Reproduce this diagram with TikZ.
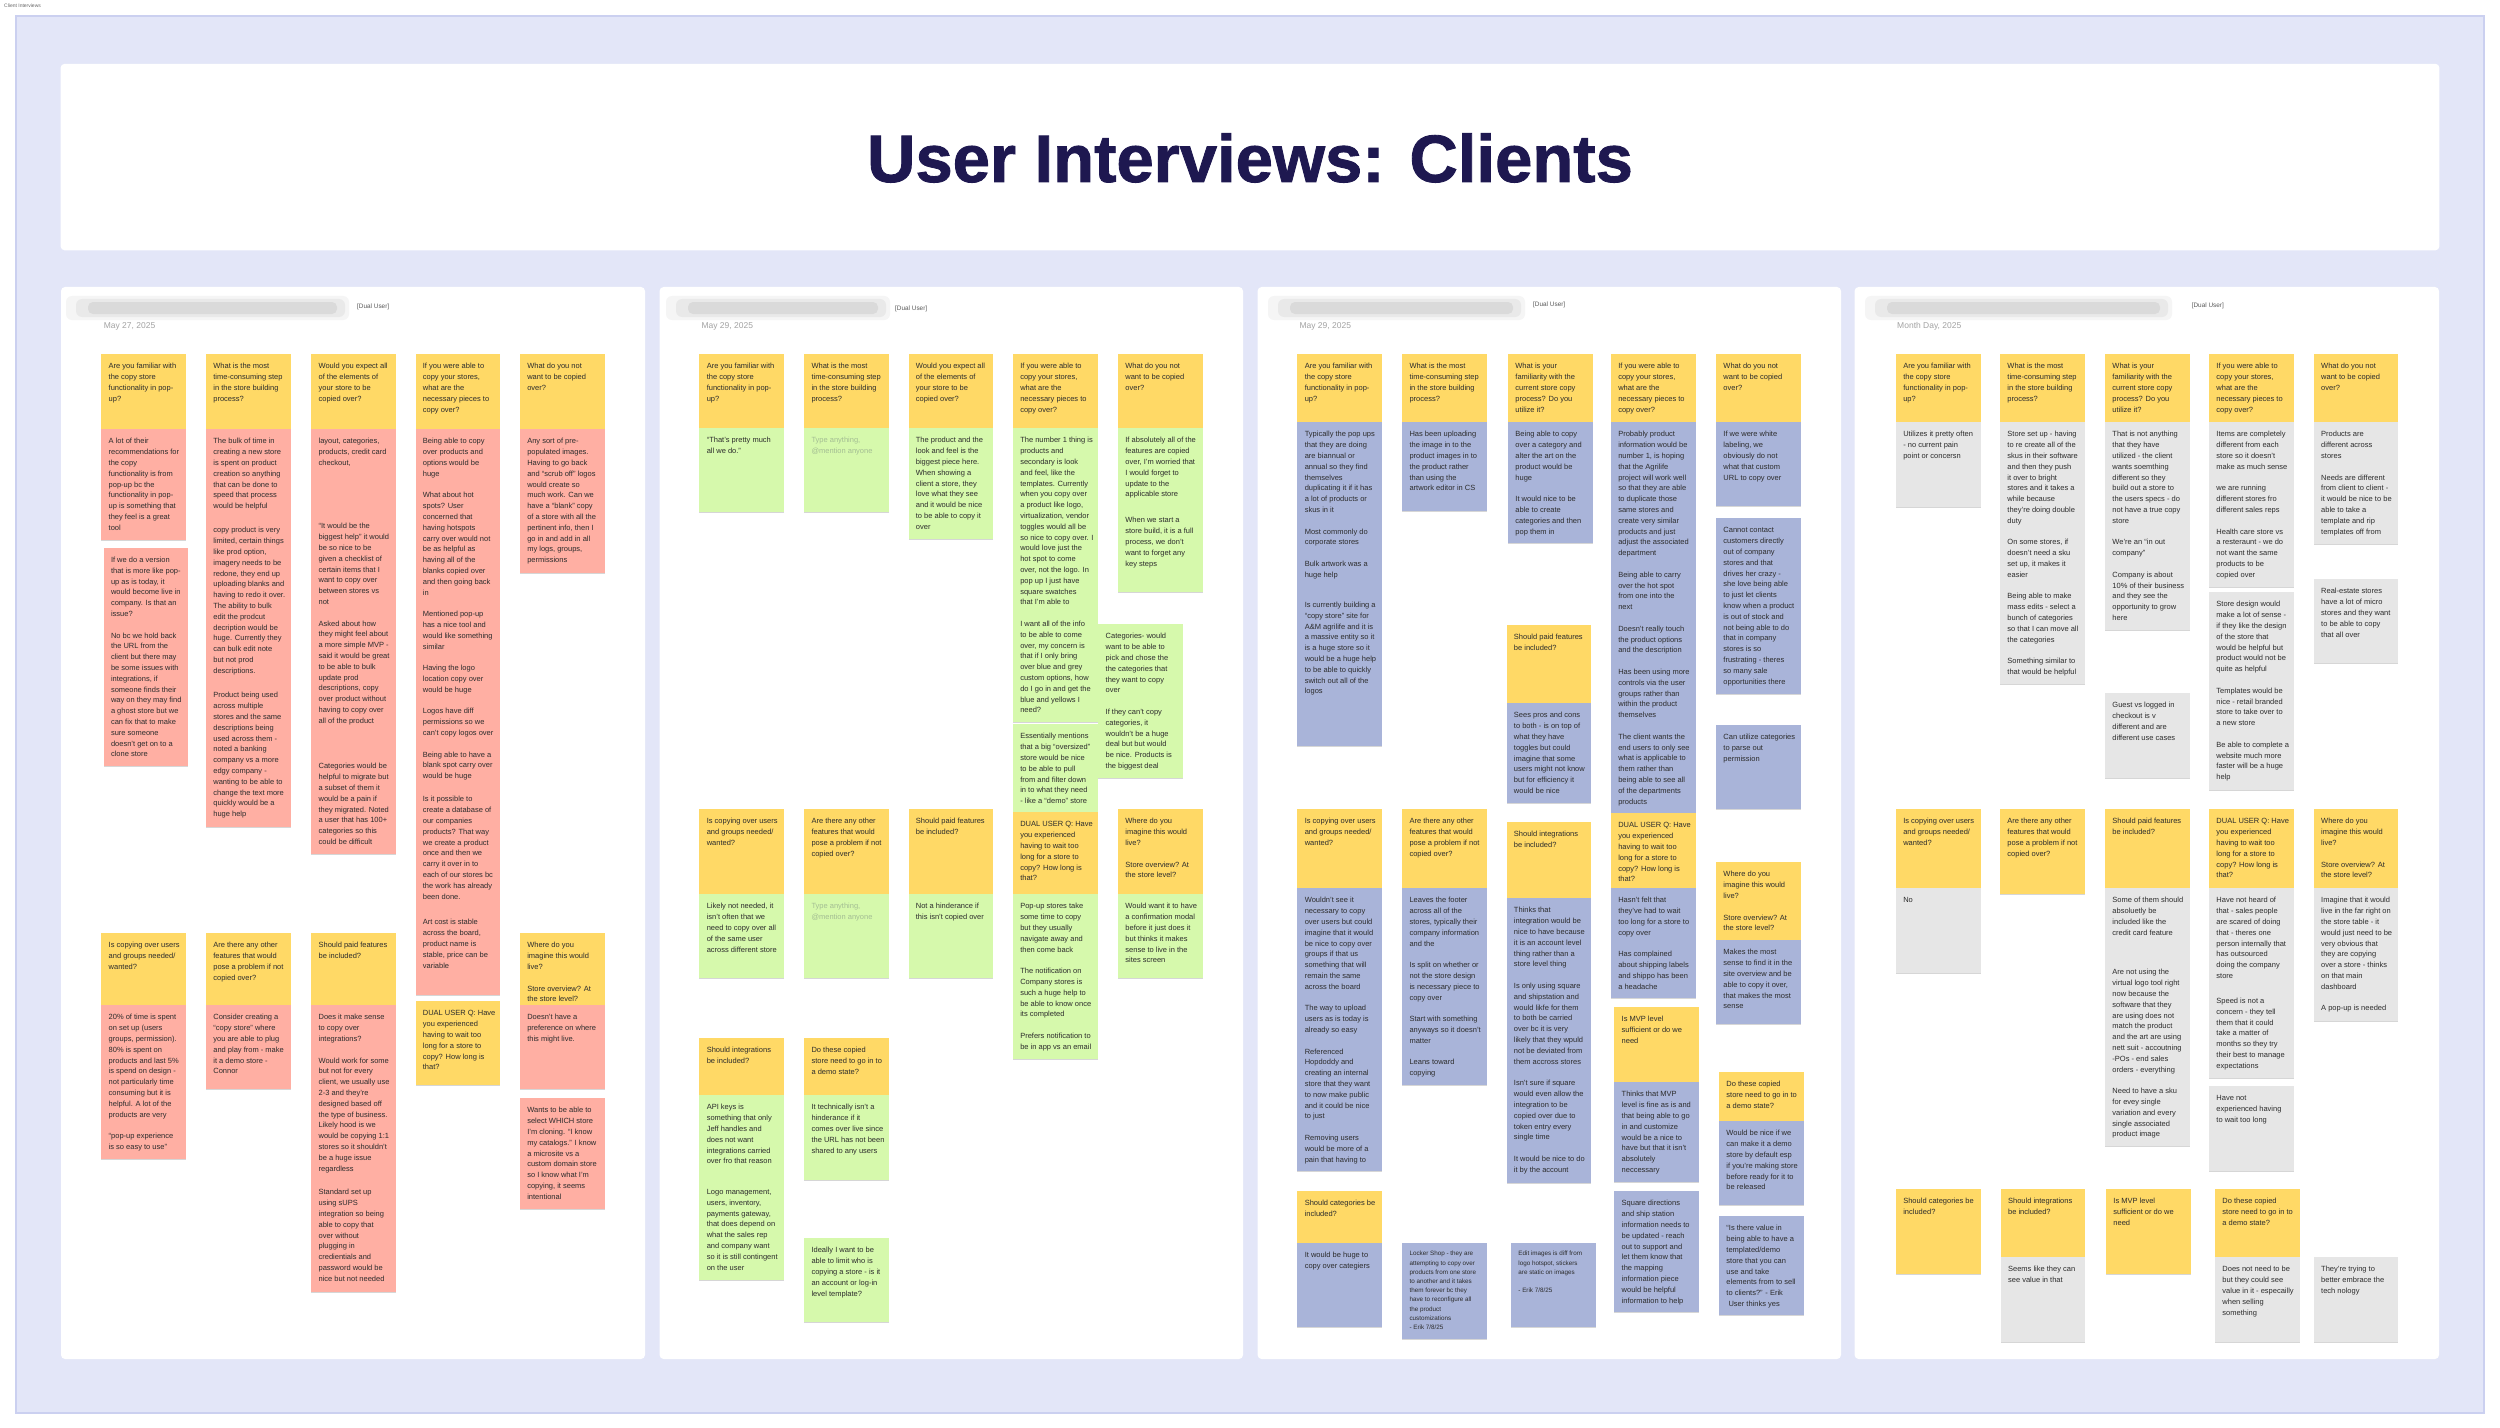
\documentclass[tikz,border=0pt]{standalone}
\usepackage{fontspec}
\setmainfont{Liberation Sans}
\newfontfamily\ttlfont[BoldFeatures={FakeBold=1.3}]{Liberation Sans}
\usetikzlibrary{shadows}
\definecolor{bg}{HTML}{E3E6F8}
\definecolor{framec}{HTML}{CBD0F0}
\definecolor{cyel}{HTML}{FFD966}
\definecolor{cpink}{HTML}{FFAFA3}
\definecolor{cgreen}{HTML}{D6F9AC}
\definecolor{cblue}{HTML}{A9B4D9}
\definecolor{cgray}{HTML}{E6E6E6}
\definecolor{txt}{HTML}{2C2C2C}
\definecolor{ttl}{HTML}{1E1850}
\definecolor{datec}{HTML}{A3A3A3}
\definecolor{ph}{HTML}{A3BD93}
\tikzset{
  ntext/.style={inner sep=0pt, align=left, anchor=north west, text=txt, font=\fontsize{7.5bp}{10.8bp}\selectfont},
  tsmall/.style={font=\fontsize{6.3bp}{9.2bp}\selectfont, yshift=2bp},
  nshadow/.style={drop shadow={shadow xshift=0bp, shadow yshift=-1.2bp, opacity=0.16, fill=black}},
  panel/.style={fill=white, rounded corners=4bp},
  datetext/.style={anchor=west, inner sep=0pt, text=datec, font=\fontsize{8.5bp}{10bp}\selectfont},
  dualtext/.style={anchor=west, inner sep=0pt, text=black!65, font=\fontsize{6.4bp}{8bp}\selectfont},
}
\newcounter{nc}
\newcommand\bl{\\[10.8bp]}
\newcommand\bls{\\[9.2bp]}
\newcommand\fs{\rule{0pt}{6bp}}
\newcommand\nt[6][]{%
  \stepcounter{nc}%
  \path[fill=#5,nshadow] (#2,#3) rectangle (#2+84.6,#4);
  \node[ntext,#1] (n\arabic{nc}) at (#2+7.2,#3+8.6) {\fs#6};
}
\newcommand\blurname[2]{% x left, x right
  \path[fill=black!4, rounded corners=6bp] (#1,296) rectangle (#2,320);
  \path[fill=black!10, opacity=0.7, rounded corners=6bp] (#1+10,299) rectangle (#2-4,317);
  \path[fill=black!18, opacity=0.6, rounded corners=5bp] (#1+22,302) rectangle (#2-12,314);
}
\begin{document}
\begin{tikzpicture}[x=1bp,y=-1bp]
\useasboundingbox (0,0) rectangle (2500,1428);
\path[fill=white] (0,0) rectangle (2500,1428);
\path[fill=bg, draw=framec, line width=1.5bp] (16,16) rectangle (2484,1413);
\node[anchor=north west, inner sep=1bp, fill=white, text=black!60, font=\fontsize{5bp}{6bp}\selectfont] (sect) at (3,3) {Client Interviews};

% title
\path[fill=white, rounded corners=4bp] (60.6,63.8) rectangle (2439.4,250.3);
\node[text=ttl, font=\ttlfont\fontsize{67bp}{78bp}\selectfont\bfseries] (title) at (1250,158) {User Interviews: Clients};

% panels
\path[panel] (61,287) rectangle (645,1359);
\path[panel] (659.6,287) rectangle (1243,1359);
\path[panel] (1257.6,287) rectangle (1841,1359);
\path[panel] (1854.6,287) rectangle (2439,1359);

\blurname{66}{349}
\blurname{666}{890}
\blurname{1268}{1525}
\blurname{1865}{2172}
\node[dualtext] (d1) at (357,307) {[Dual User]};
\node[dualtext] (d2) at (895,309) {[Dual User]};
\node[dualtext] (d3) at (1533,305) {[Dual User]};
\node[dualtext] (d4) at (2191.6,306) {[Dual User]};
\node[datetext] (date1) at (103.6,326) {May 27, 2025};
\node[datetext] (date2) at (701.3,326) {May 29, 2025};
\node[datetext] (date3) at (1299.3,326) {May 29, 2025};
\node[datetext] (date4) at (1897,326) {Month Day, 2025};

% ================= PANEL 1 =================
\nt{101.3}{354}{429}{cyel}{Are you familiar with\\the copy store\\functionality in pop-\\up?}
\nt{101.3}{429}{540}{cpink}{A lot of their\\recommendations for\\the copy\\functionality is from\\pop-up bc the\\functionality in pop-\\up is something that\\they feel is a great\\tool}
\nt{103.6}{547.7}{766}{cpink}{If we do a version\\that is more like pop-\\up as is today, it\\would become live in\\company. Is that an\\issue?\bl No bc we hold back\\the URL from the\\client but there may\\be some issues with\\integrations, if\\someone finds their\\way on they may find\\a ghost store but we\\can fix that to make\\sure someone\\doesn’t get on to a\\clone store}
\nt{101.3}{933}{1005}{cyel}{Is copying over users\\and groups needed/\\wanted?}
\nt{101.3}{1005}{1159}{cpink}{20\% of time is spent\\on set up (users\\groups, permission).\\80\% is spent on\\products and last 5\%\\is spend on design -\\not particularly time\\consuming but it is\\helpful. A lot of the\\products are very\bl “pop-up experience\\is so easy to use”}

\nt{206}{354}{429}{cyel}{What is the most\\time-consuming step\\in the store building\\process?}
\nt{206}{429}{518}{cpink}{The bulk of time in\\creating a new store\\is spent on product\\creation so anything\\that can be done to\\speed that process\\would be helpful}
\nt{206}{518}{683}{cpink}{copy product is very\\limited, certain things\\like prod option,\\imagery needs to be\\redone, they end up\\uploading blanks and\\having to redo it over.\\The ability to bulk\\edit the prodcut\\decription would be\\huge. Currently they\\can bulk edit note\\but not prod\\descriptions.}
\nt{206}{683}{827}{cpink}{Product being used\\across multiple\\stores and the same\\descriptions being\\used across them -\\noted a banking\\company vs a more\\edgy company -\\wanting to be able to\\change the text more\\quickly would be a\\huge help}
\nt{206}{933}{1005}{cyel}{Are there any other\\features that would\\pose a problem if not\\copied over?}
\nt{206}{1005}{1089}{cpink}{Consider creating a\\“copy store” where\\you are able to plug\\and play from - make\\it a demo store -\\Connor}

\nt{311.2}{354}{429}{cyel}{Would you expect all\\of the elements of\\your store to be\\copied over?}
\nt{311.2}{429}{754}{cpink}{layout, categories,\\products, credit card\\checkout,\\[52.6bp]“It would be the\\biggest help” it would\\be so nice to be\\given a checklist of\\certain items that I\\want to copy over\\between stores vs\\not\bl Asked about how\\they might feel about\\a more simple MVP -\\said it would be great\\to be able to bulk\\update prod\\descriptions, copy\\over product without\\having to copy over\\all of the product}
\nt{311.2}{754}{854}{cpink}{Categories would be\\helpful to migrate but\\a subset of them it\\would be a pain if\\they migrated. Noted\\a user that has 100+\\categories so this\\could be difficult}
\nt{311.2}{933}{1005}{cyel}{Should paid features\\be included?}
\nt{311.2}{1005}{1180}{cpink}{Does it make sense\\to copy over\\integrations?\bl Would work for some\\but not for every\\client, we usually use\\2-3 and they’re\\designed based off\\the type of business.\\Likely hood is we\\would be copying 1:1\\stores so it shouldn’t\\be a huge issue\\regardless}
\nt{311.2}{1180}{1292}{cpink}{Standard set up\\using sUPS\\integration so being\\able to copy that\\over without\\plugging in\\credientials and\\password would be\\nice but not needed}

\nt{415.5}{354}{429}{cyel}{If you were able to\\copy your stores,\\what are the\\necessary pieces to\\copy over?}
\nt{415.5}{429}{787}{cpink}{Being able to copy\\over products and\\options would be\\huge\bl What about hot\\spots? User\\concerned that\\having hotspots\\carry over would not\\be as helpful as\\having all of the\\blanks copied over\\and then going back\\in\bl Mentioned pop-up\\has a nice tool and\\would like something\\similar\bl Having the logo\\location copy over\\would be huge\bl Logos have diff\\permissions so we\\can’t copy logos over\bl Being able to have a\\blank spot carry over\\would be huge}
\nt{415.5}{787}{910}{cpink}{Is it possible to\\create a database of\\our companies\\products? That way\\we create a product\\once and then we\\carry it over in to\\each of our stores bc\\the work has already\\been done.}
\nt{415.5}{910}{995}{cpink}{Art cost is stable\\across the board,\\product name is\\stable, price can be\\variable}
\nt{415.5}{1001}{1085}{cyel}{DUAL USER Q: Have\\you experienced\\having to wait too\\long for a store to\\copy? How long is\\that?}

\nt{519.9}{354}{429}{cyel}{What do you not\\want to be copied\\over?}
\nt{519.9}{429}{573}{cpink}{Any sort of pre-\\populated images.\\Having to go back\\and “scrub off” logos\\would create so\\much work. Can we\\have a “blank” copy\\of a store with all the\\pertinent info, then I\\go in and add in all\\my logs, groups,\\permissions}
\nt{519.9}{933}{1005}{cyel}{Where do you\\imagine this would\\live?\bl Store overview? At\\the store level?}
\nt{519.9}{1005}{1089}{cpink}{Doesn’t have a\\preference on where\\this might live.}
\nt{519.9}{1098}{1209}{cpink}{Wants to be able to\\select WHICH store\\I’m cloning. “I know\\my catalogs.” I know\\a microsite vs a\\custom domain store\\so I know what I’m\\copying, it seems\\intentional}

% ================= PANEL 2 =================
\nt{699.4}{354}{428}{cyel}{Are you familiar with\\the copy store\\functionality in pop-\\up?}
\nt{699.4}{428}{512}{cgreen}{“That’s pretty much\\all we do.”}
\nt{699.4}{809}{894}{cyel}{Is copying over users\\and groups needed/\\wanted?}
\nt{699.4}{894}{978}{cgreen}{Likely not needed, it\\isn’t often that we\\need to copy over all\\of the same user\\across different store}
\nt{699.4}{1038}{1095}{cyel}{Should integrations\\be included?}
\nt{699.4}{1095}{1280}{cgreen}{API keys is\\something that only\\Jeff handles and\\does not want\\integrations carried\\over fro that reason\\[19.9bp]Logo management,\\users, inventory,\\payments gateway,\\that does depend on\\what the sales rep\\and company want\\so it is still contingent\\on the user}

\nt{804.1}{354}{428}{cyel}{What is the most\\time-consuming step\\in the store building\\process?}
\nt[text=ph]{804.1}{428}{512}{cgreen}{Type anything,\\@mention anyone}
\nt{804.1}{809}{894}{cyel}{Are there any other\\features that would\\pose a problem if not\\copied over?}
\nt[text=ph]{804.1}{894}{978}{cgreen}{Type anything,\\@mention anyone}
\nt{804.1}{1038}{1095}{cyel}{Do these copied\\store need to go in to\\a demo state?}
\nt{804.1}{1095}{1180}{cgreen}{It technically isn’t a\\hinderance if it\\comes over live since\\the URL has not been\\shared to any users}
\nt{804.1}{1238}{1322}{cgreen}{Ideally I want to be\\able to limit who is\\copying a store - is it\\an account or log-in\\level template?}

\nt{908.5}{354}{428}{cyel}{Would you expect all\\of the elements of\\your store to be\\copied over?}
\nt{908.5}{428}{539}{cgreen}{The product and the\\look and feel is the\\biggest piece here.\\When showing a\\client a store, they\\love what they see\\and it would be nice\\to be able to copy it\\over}
\nt{908.5}{809}{894}{cyel}{Should paid features\\be included?}
\nt{908.5}{894}{978}{cgreen}{Not a hinderance if\\this isn’t copied over}

\nt{1012.9}{354}{428}{cyel}{If you were able to\\copy your stores,\\what are the\\necessary pieces to\\copy over?}
\nt{1012.9}{428}{722}{cgreen}{The number 1 thing is\\products and\\secondary is look\\and feel, like the\\templates. Currently\\when you copy over\\a product like logo,\\virtualization, vendor\\toggles would all be\\so nice to copy over. I\\would love just the\\hot spot to come\\over, not the logo. In\\pop up I just have\\square swatches\\that I’m able to\bl I want all of the info\\to be able to come\\over, my concern is\\that if I only bring\\over blue and grey\\custom options, how\\do I go in and get the\\blue and yellows I\\need?}
\nt{1012.9}{724}{812}{cgreen}{Essentially mentions\\that a big “oversized”\\store would be nice\\to be able to pull\\from and filter down\\in to what they need\\- like a “demo” store}
\nt{1012.9}{812}{894}{cyel}{DUAL USER Q: Have\\you experienced\\having to wait too\\long for a store to\\copy? How long is\\that?}
\nt{1012.9}{894}{1059}{cgreen}{Pop-up stores take\\some time to copy\\but they usually\\navigate away and\\then come back\bl The notification on\\Company stores is\\such a huge help to\\be able to know once\\its completed\bl Prefers notification to\\be in app vs an email}
\nt{1098.3}{624}{778}{cgreen}{Categories- would\\want to be able to\\pick and chose the\\the categories that\\they want to copy\\over\bl If they can’t copy\\categories, it\\wouldn’t be a huge\\deal but but would\\be nice. Products is\\the biggest deal}

\nt{1118}{354}{428}{cyel}{What do you not\\want to be copied\\over?}
\nt{1118}{428}{592}{cgreen}{If absolutely all of the\\features are copied\\over, I’m worried that\\I would forget to\\update to the\\applicable store\\[15.2bp]When we start a\\store build, it is a full\\process, we don’t\\want to forget any\\key steps}
\nt{1118}{809}{894}{cyel}{Where do you\\imagine this would\\live?\bl Store overview? At\\the store level?}
\nt{1118}{894}{978}{cgreen}{Would want it to have\\a confirmation modal\\before it just does it\\but thinks it makes\\sense to live in the\\sites screen}

% ================= PANEL 3 =================
\nt{1297.4}{354}{422}{cyel}{Are you familiar with\\the copy store\\functionality in pop-\\up?}
\nt{1297.4}{422}{746}{cblue}{Typically the pop ups\\that they are doing\\are biannual or\\annual so they find\\themselves\\duplicating it if it has\\a lot of products or\\skus in it\bl Most commonly do\\corporate stores\bl Bulk artwork was a\\huge help\\[19.5bp]Is currently building a\\“copy store” site for\\A\&M agrilife and it is\\a massive entity so it\\is a huge store so it\\would be a huge help\\to be able to quickly\\switch out all of the\\logos}
\nt{1297.4}{809}{888}{cyel}{Is copying over users\\and groups needed/\\wanted?}
\nt{1297.4}{888}{1171}{cblue}{Wouldn’t see it\\necessary to copy\\over users but could\\imagine that it would\\be nice to copy over\\groups if that us\\something that will\\remain the same\\across the board\bl The way to upload\\users as is today is\\already so easy\bl Referenced\\Hopdoddy and\\creating an internal\\store that they want\\to now make public\\and it could be nice\\to just\bl Removing users\\would be more of a\\pain that having to}
\nt{1297.4}{1191}{1243}{cyel}{Should categories be\\included?}
\nt{1297.4}{1243}{1327}{cblue}{It would be huge to\\copy over categiers}

\nt{1402.1}{354}{422}{cyel}{What is the most\\time-consuming step\\in the store building\\process?}
\nt{1402.1}{422}{511}{cblue}{Has been uploading\\the image in to the\\product images in to\\the product rather\\than using the\\artwork editor in CS}
\nt{1402.1}{809}{888}{cyel}{Are there any other\\features that would\\pose a problem if not\\copied over?}
\nt{1402.1}{888}{1085}{cblue}{Leaves the footer\\across all of the\\stores, typically their\\company information\\and the\bl Is split on whether or\\not the store design\\is necessary piece to\\copy over\bl Start with something\\anyways so it doesn’t\\matter\bl Leans toward\\copying}
\nt[tsmall]{1402.1}{1243}{1339}{cblue}{Locker Shop - they are\\attempting to copy over\\products from one store\\to another and it takes\\them forever bc they\\have to reconfigure all\\the product\\customizations\\- Erik 7/8/25}

\nt{1508}{354}{422}{cyel}{What is your\\familiarity with the\\current store copy\\process? Do you\\utilize it?}
\nt{1508}{422}{543}{cblue}{Being able to copy\\over a category and\\alter the art on the\\product would be\\huge\bl It would nice to be\\able to create\\categories and then\\pop them in}
\nt{1506.5}{625}{703}{cyel}{Should paid features\\be included?}
\nt{1506.5}{703}{803}{cblue}{Sees pros and cons\\to both - is on top of\\what they have\\toggles but could\\imagine that some\\users might not know\\but for efficiency it\\would be nice}
\nt{1506.5}{822}{898}{cyel}{Should integrations\\be included?}
\nt{1506.5}{898}{1071}{cblue}{Thinks that\\integration would be\\nice to have because\\it is an account level\\thing rather than a\\store level thing\bl Is only using square\\and shipstation and\\would likfe for them\\to both be carried\\over bc it is very\\likely that they wpuld\\not be deviated from\\them accross stores}
\nt{1506.5}{1071}{1183}{cblue}{Isn’t sure if square\\would even allow the\\integration to be\\copied over due to\\token entry every\\single time\bl It would be nice to do\\it by the account}
\nt[tsmall]{1511}{1243}{1327}{cblue}{Edit images is diff from\\logo hotspot, stickers\\are static on images\bls - Erik 7/8/25}

\nt{1610.9}{354}{422}{cyel}{If you were able to\\copy your stores,\\what are the\\necessary pieces to\\copy over?}
\nt{1610.9}{422}{813}{cblue}{Probably product\\information would be\\number 1, is hoping\\that the Agrilife\\project will work well\\so that they are able\\to duplicate those\\same stores and\\create very similar\\products and just\\adjust the associated\\department\bl Being able to carry\\over the hot spot\\from one into the\\next\bl Doesn’t really touch\\the product options\\and the description\bl Has been using more\\controls via the user\\groups rather than\\within the product\\themselves\bl The client wants the\\end users to only see\\what is applicable to\\them rather than\\being able to see all\\of the departments\\products}
\nt{1610.9}{813}{888}{cyel}{DUAL USER Q: Have\\you experienced\\having to wait too\\long for a store to\\copy? How long is\\that?}
\nt{1610.9}{888}{998}{cblue}{Hasn’t felt that\\they’ve had to wait\\too long for a store to\\copy over\bl Has complained\\about shipping labels\\and shippo has been\\a headache}
\nt{1614.3}{1007}{1082}{cyel}{Is MVP level\\sufficient or do we\\need}
\nt{1614.3}{1082}{1182}{cblue}{Thinks that MVP\\level is fine as is and\\that being able to go\\in and customize\\would be a nice to\\have but that it isn’t\\absolutely\\neccessary}
\nt{1614.3}{1191}{1312}{cblue}{Square directions\\and ship station\\information needs to\\be updated - reach\\out to support and\\let them know that\\the mapping\\information piece\\would be helpful\\information to help}

\nt{1716}{354}{422}{cyel}{What do you not\\want to be copied\\over?}
\nt{1716}{422}{506}{cblue}{If we were white\\labeling, we\\obviously do not\\what that custom\\URL to copy over}
\nt{1716}{518}{694}{cblue}{Cannot contact\\customers directly\\out of company\\stores and that\\drives her crazy -\\she love being able\\to just let clients\\know when a product\\is out of stock and\\not being able to do\\that in company\\stores is so\\frustrating - theres\\so many sale\\opportunities there}
\nt{1716}{725}{809}{cblue}{Can utilize categories\\to parse out\\permission}
\nt{1716}{862}{940}{cyel}{Where do you\\imagine this would\\live?\bl Store overview? At\\the store level?}
\nt{1716}{940}{1024}{cblue}{Makes the most\\sense to find it in the\\site overview and be\\able to copy it over,\\that makes the most\\sense}
\nt{1719}{1072}{1121}{cyel}{Do these copied\\store need to go in to\\a demo state?}
\nt{1719}{1121}{1205}{cblue}{Would be nice if we\\can make it a demo\\store by default esp\\if you’re making store\\before ready for it to\\be released}
\nt{1719}{1216}{1315}{cblue}{“Is there value in\\being able to have a\\templated/demo\\store that you can\\use and take\\elements from to sell\\to clients?” - Erik\\\ User thinks yes}

% ================= PANEL 4 =================
\nt{1895.9}{354}{422}{cyel}{Are you familiar with\\the copy store\\functionality in pop-\\up?}
\nt{1895.9}{422}{507}{cgray}{Utilizes it pretty often\\- no current pain\\point or concersn}
\nt{1895.9}{809}{888}{cyel}{Is copying over users\\and groups needed/\\wanted?}
\nt{1895.9}{888}{973}{cgray}{No}
\nt{1895.9}{1189}{1274}{cyel}{Should categories be\\included?}

\nt{2000}{354}{422}{cyel}{What is the most\\time-consuming step\\in the store building\\process?}
\nt{2000}{422}{684}{cgray}{Store set up - having\\to re create all of the\\skus in their software\\and then they push\\it over to bright\\stores and it takes a\\while because\\they’re doing double\\duty\bl On some stores, if\\doesn’t need a sku\\set up, it makes it\\easier\bl Being able to make\\mass edits - select a\\bunch of categories\\so that I can move all\\the categories\bl Something similar to\\that would be helpful}
\nt{2000}{809}{894}{cyel}{Are there any other\\features that would\\pose a problem if not\\copied over?}
\nt{2000.7}{1189}{1257}{cyel}{Should integrations\\be included?}
\nt{2000.7}{1257}{1342}{cgray}{Seems like they can\\see value in that}

\nt{2105}{354}{422}{cyel}{What is your\\familiarity with the\\current store copy\\process? Do you\\utilize it?}
\nt{2105}{422}{630}{cgray}{That is not anything\\that they have\\utilized - the client\\wants soemthing\\different so they\\build out a store to\\the users specs - do\\not have a true copy\\store\bl We’re an “in out\\company”\bl Company is about\\10\% of their business\\and they see the\\opportunity to grow\\here}
\nt{2105}{693}{778}{cgray}{Guest vs logged in\\checkout is v\\different and are\\different use cases}
\nt{2105}{809}{888}{cyel}{Should paid features\\be included?}
\nt{2105}{888}{1146}{cgray}{Some of them should\\absoluetly be\\included like the\\credit card feature\\[28.9bp]Are not using the\\virtual logo tool right\\now because the\\software that they\\are using does not\\match the product\\and the art are using\\nett suit - accoutning\\-POs - end sales\\orders - everything\bl Need to have a sku\\for evey single\\variation and every\\single associated\\product image}
\nt{2106}{1189}{1274}{cyel}{Is MVP level\\sufficient or do we\\need}

\nt{2209}{354}{422}{cyel}{If you were able to\\copy your stores,\\what are the\\necessary pieces to\\copy over?}
\nt{2209}{422}{587}{cgray}{Items are completely\\different from each\\store so it doesn’t\\make as much sense\bl we are running\\different stores fro\\different sales reps\bl Health care store vs\\a resteraunt - we do\\not want the same\\products to be\\copied over}
\nt{2209}{592}{790}{cgray}{Store design would\\make a lot of sense -\\if they like the design\\of the store that\\would be helpful but\\product would not be\\quite as helpful\bl Templates would be\\nice - retail branded\\store to take over to\\a new store\bl Be able to complete a\\website much more\\faster will be a huge\\help}
\nt{2209}{809}{888}{cyel}{DUAL USER Q: Have\\you experienced\\having to wait too\\long for a store to\\copy? How long is\\that?}
\nt{2209}{888}{1078}{cgray}{Have not heard of\\that - sales people\\are scared of doing\\that - theres one\\person internally that\\has outsourced\\doing the company\\store\\[14.2bp]Speed is not a\\concern - they tell\\them that it could\\take a matter of\\months so they try\\their best to manage\\expectations}
\nt{2209}{1086}{1171}{cgray}{Have not\\experienced having\\to wait too long}
\nt{2215}{1189}{1257}{cyel}{Do these copied\\store need to go in to\\a demo state?}
\nt{2215}{1257}{1342}{cgray}{Does not need to be\\but they could see\\value in it - especailly\\when selling\\something}

\nt{2313.8}{354}{422}{cyel}{What do you not\\want to be copied\\over?}
\nt{2313.8}{422}{544}{cgray}{Products are\\different across\\stores\bl Needs are different\\from client to client -\\it would be nice to be\\able to take a\\template and rip\\templates off from}
\nt{2313.8}{579}{663}{cgray}{Real-estate stores\\have a lot of micro\\stores and they want\\to be able to copy\\that all over}
\nt{2313.8}{809}{888}{cyel}{Where do you\\imagine this would\\live?\bl Store overview? At\\the store level?}
\nt{2313.8}{888}{1021}{cgray}{Imagine that it would\\live in the far right on\\the store table - it\\would just need to be\\very obvious that\\they are copying\\over a store - thinks\\on that main\\dashboard\bl A pop-up is needed}
\nt{2313.8}{1257}{1342}{cgray}{They’re trying to\\better embrace the\\tech nology}
\end{tikzpicture}
\end{document}
